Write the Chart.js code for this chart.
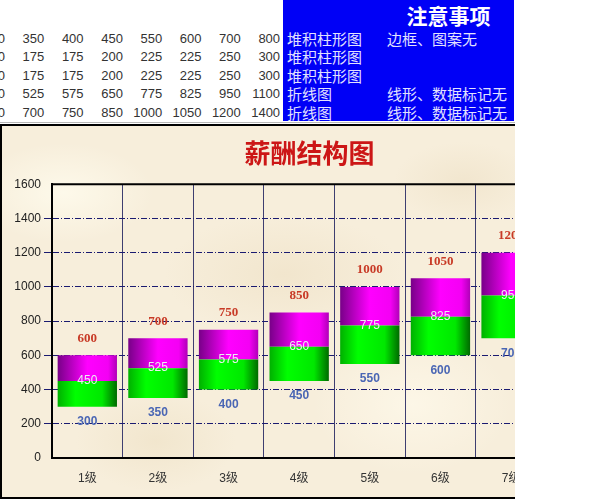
<!DOCTYPE html>
<html>
<head>
<meta charset="utf-8">
<script src="https://cdn.jsdelivr.net/npm/chart.js@4.4.1/dist/chart.umd.min.js"></script>
<style>
  html, body { margin: 0; padding: 0; width: 606px; height: 500px; overflow: hidden; background: #fff; }
  .num { position: absolute; width: 40px; text-align: right; font: 13px "Liberation Sans", Arial, sans-serif; color: #333; line-height: 18px; white-space: nowrap; }
  #sepLine { position: absolute; left: 0; top: 122px; width: 515px; height: 1px; background: #b8b8b8; }
  #notes { position: absolute; left: 283px; top: 0; width: 231px; height: 121px; background: #0000f6; color: #e2e2ff; font-family: "Noto Sans CJK SC", sans-serif; }
  #notes .head { position: absolute; left: 0; width: 231px; top: 2px; text-align: center; padding-left: 100px; box-sizing: border-box; font-size: 21px; font-weight: bold; color: #fff; line-height: 26px; }
  #notes .row { position: absolute; font-size: 15px; line-height: 18px; white-space: nowrap; }
  #chartBox {
    position: absolute; left: 0; top: 124px; width: 513px; height: 371px;
    border: 2px solid #000; border-right: none; overflow: hidden;
    background:
      radial-gradient(ellipse 90px 50px at 12% 18%, rgba(255,252,238,0.8), rgba(255,252,238,0)),
      radial-gradient(ellipse 120px 60px at 55% 40%, rgba(238,224,196,0.6), rgba(238,224,196,0)),
      radial-gradient(ellipse 100px 70px at 80% 75%, rgba(255,250,236,0.7), rgba(255,250,236,0)),
      radial-gradient(ellipse 80px 50px at 30% 85%, rgba(236,222,192,0.5), rgba(236,222,192,0)),
      radial-gradient(ellipse 70px 40px at 90% 15%, rgba(236,222,194,0.5), rgba(236,222,194,0)),
      #f7eedb;
  }
  #payChart { position: absolute; left: 0; top: 0; }
</style>
</head>
<body>
<div id="sheet"></div>
<div id="sepLine"></div>
<div id="notes"></div>
<div id="chartBox"><canvas id="payChart" width="640" height="371"></canvas></div>
<script>
// sheet data (rows of the source table)
const levels = ['1级', '2级', '3级', '4级', '5级', '6级', '7级', '8级'];
const minPay = [300, 350, 400, 450, 550, 600, 700, 800];
const lowBand = [150, 175, 175, 200, 225, 225, 250, 300];
const highBand = [150, 175, 175, 200, 225, 225, 250, 300];
const midPay = [450, 525, 575, 650, 775, 825, 950, 1100];
const maxPay = [600, 700, 750, 850, 1000, 1050, 1200, 1400];
const rowTypes = ['堆积柱形图', '堆积柱形图', '堆积柱形图', '折线图', '折线图'];
const rowNotes = ['边框、图案无', '', '', '线形、数据标记无', '线形、数据标记无'];
const noteTitle = '注意事项';
const chartTitle = '薪酬结构图';
const yMin = 0, yMax = 1600, yStep = 200;

// table on top of the sheet
const rows = [minPay, lowBand, highBand, midPay, maxPay];
const sheet = document.getElementById('sheet');
rows.forEach((row, r) => {
    row.forEach((v, c) => {
        const d = document.createElement('div');
        d.className = 'num';
        d.style.top = (30 + r * 18.4) + 'px';
        d.style.left = (5 + c * 39.3 - 40) + 'px';
        d.textContent = v;
        sheet.appendChild(d);
    });
});

const notes = document.getElementById('notes');
const head = document.createElement('div');
head.className = 'head';
head.textContent = noteTitle;
notes.appendChild(head);
rowTypes.forEach((t, r) => {
    const a = document.createElement('div');
    a.className = 'row';
    a.style.left = '4px';
    a.style.top = (30 + r * 18.4) + 'px';
    a.textContent = t;
    notes.appendChild(a);
    if (rowNotes[r]) {
        const b = document.createElement('div');
        b.className = 'row';
        b.style.left = '104px';
        b.style.top = (30 + r * 18.4) + 'px';
        b.textContent = rowNotes[r];
        notes.appendChild(b);
    }
});

// horizontal gradient per bar
const BAR_PCT = 0.84;
function barFill(stops) {
    return function(c) {
        const chart = c.chart;
        const xs = chart.scales.x;
        if (!chart.chartArea || !xs || c.dataIndex === undefined) return stops[1][1];
        const cx = xs.getPixelForValue(c.dataIndex);
        const half = (xs.width / levels.length) * BAR_PCT / 2;
        const g = chart.ctx.createLinearGradient(cx - half, 0, cx + half, 0);
        stops.forEach(s => g.addColorStop(s[0], s[1]));
        return g;
    };
}

// data labels: min below, mid in the middle, max above
const payLabels = {
    id: 'payLabels',
    afterDatasetsDraw(chart) {
        const ctx = chart.ctx;
        const baseMeta = chart.getDatasetMeta(0);
        const midMeta = chart.getDatasetMeta(3);
        const maxMeta = chart.getDatasetMeta(4);
        ctx.save();
        ctx.textAlign = 'center';
        ctx.textBaseline = 'middle';
        levels.forEach((lv, i) => {
            const b = baseMeta.data[i];
            ctx.font = 'bold 12px "Liberation Sans", sans-serif';
            ctx.fillStyle = '#4a66b4';
            ctx.fillText(String(minPay[i]), b.x, b.y + 15);
            const m = midMeta.data[i];
            ctx.font = '12px "Liberation Sans", sans-serif';
            ctx.fillStyle = '#ececf2';
            ctx.fillText(String(midPay[i]), m.x, m.y);
            const t = maxMeta.data[i];
            ctx.font = 'bold 13px "Liberation Serif", serif';
            ctx.fillStyle = '#c83a26';
            ctx.fillText(String(maxPay[i]), t.x, t.y - 17);
        });
        ctx.restore();
    }
};

// black top edge of the plot area
const plotTop = {
    id: 'plotTop',
    afterDraw(chart) {
        const a = chart.chartArea;
        const ctx = chart.ctx;
        ctx.save();
        ctx.strokeStyle = '#000';
        ctx.lineWidth = 2;
        ctx.beginPath();
        ctx.moveTo(a.left - 1, a.top);
        ctx.lineTo(a.right, a.top);
        ctx.stroke();
        ctx.restore();
    }
};

Chart.defaults.font.family = '"Liberation Sans", "Noto Sans CJK SC", sans-serif';

new Chart(document.getElementById('payChart').getContext('2d'), {
    data: {
        labels: levels,
        datasets: [
            {
                type: 'bar', label: 'min', data: minPay, stack: 'pay',
                backgroundColor: 'rgba(0,0,0,0)',
                barPercentage: 1, categoryPercentage: BAR_PCT
            },
            {
                type: 'bar', label: 'low', data: lowBand, stack: 'pay',
                backgroundColor: barFill([[0, '#00b000'], [0.3, '#00ff00'], [0.75, '#00e800'], [1, '#006a00']]),
                barPercentage: 1, categoryPercentage: BAR_PCT
            },
            {
                type: 'bar', label: 'high', data: highBand, stack: 'pay',
                backgroundColor: barFill([[0, '#780088'], [0.5, '#ff00ff'], [0.85, '#f400f4'], [1, '#b000b8']]),
                barPercentage: 1, categoryPercentage: BAR_PCT
            },
            {
                type: 'line', label: 'mid', data: midPay, stack: 'mid',
                showLine: false, pointRadius: 0
            },
            {
                type: 'line', label: 'max', data: maxPay, stack: 'max',
                showLine: false, pointRadius: 0
            }
        ]
    },
    options: {
        responsive: false,
        maintainAspectRatio: false,
        animation: false,
        events: [],
        layout: { padding: { left: 0, right: 25, top: 0, bottom: 0 } },
        plugins: {
            legend: { display: false },
            tooltip: { enabled: false },
            title: {
                display: true,
                text: chartTitle,
                color: '#cc1616',
                font: { size: 26, weight: 'bold', family: '"Noto Sans CJK SC", sans-serif' },
                padding: { top: 12, bottom: 15 }
            }
        },
        scales: {
            x: {
                stacked: true,
                offset: true,
                grid: { offset: true, color: '#3e3e70', lineWidth: 1, drawTicks: false },
                border: { color: '#000', width: 2 },
                ticks: { color: '#333', padding: 13, font: { size: 12 } },
                afterFit(scale) { scale.height = 39; }
            },
            y: {
                stacked: true,
                min: yMin,
                max: yMax,
                grid: {
                    color: c => (c.tick && (c.tick.value === yMin || c.tick.value === yMax)) ? 'rgba(0,0,0,0)' : '#1a1a70',
                    lineWidth: 1,
                    tickLength: 8
                },
                border: { color: '#000', width: 2, dash: [6, 2, 1, 2] },
                ticks: { stepSize: yStep, color: '#222', padding: 3, font: { size: 12 }, callback: v => String(v) },
                afterFit(scale) { scale.width = 50; }
            }
        }
    },
    plugins: [payLabels, plotTop]
});
</script>
</body>
</html>
